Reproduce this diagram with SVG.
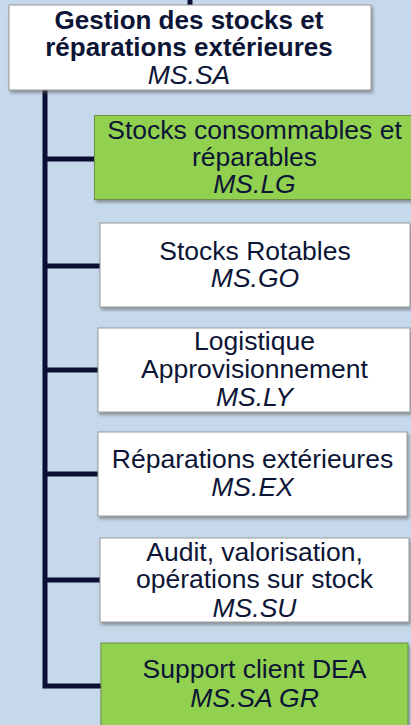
<svg xmlns="http://www.w3.org/2000/svg" width="411" height="725" viewBox="0 0 411 725">
<style>
.box{fill:#ffffff;stroke:#9a9a9a;stroke-width:1;filter:url(#sh)}
.green{fill:#92d050;stroke:#6f8f4a;stroke-width:1;filter:url(#sh)}
text{font-family:"Liberation Sans",Arial,sans-serif;font-size:26.5px;fill:#0c1535;text-anchor:middle}
.b{font-weight:bold;font-size:26px}
.i{font-style:italic}
.ln{stroke:#0a0f33;stroke-width:5;fill:none}
</style>
<defs>
<filter id="sh" x="-10%" y="-10%" width="125%" height="140%">
<feDropShadow dx="1.5" dy="2.5" stdDeviation="1.5" flood-color="#555" flood-opacity="0.55"/>
</filter>
</defs>
<rect width="411" height="725" fill="#c6d9eb"/>
<g id="connectors">
<line class="ln" x1="190" y1="0" x2="190" y2="6"/>
<path class="ln" d="M45 90 V686 H102"/>
<line class="ln" x1="45" y1="159" x2="95" y2="159"/>
<line class="ln" x1="45" y1="266" x2="100" y2="266"/>
<line class="ln" x1="45" y1="370" x2="98" y2="370"/>
<line class="ln" x1="45" y1="474" x2="98" y2="474"/>
<line class="ln" x1="45" y1="580" x2="100" y2="580"/>
</g>
<g id="n0">
<rect class="box" x="9" y="5" width="362" height="85"/>
<text class="b" x="189" y="29">Gestion des stocks et</text>
<text class="b" x="189" y="56">réparations extérieures</text>
<text class="i" x="189" y="84">MS.SA</text>
</g>
<g id="n1">
<rect class="green" x="94.5" y="115.5" width="322" height="84"/>
<text x="254.5" y="139">Stocks consommables et</text>
<text x="254.5" y="166">réparables</text>
<text class="i" x="254.5" y="193">MS.LG</text>
</g>
<g id="n2">
<rect class="box" x="100" y="223" width="310" height="84"/>
<text x="255" y="260">Stocks Rotables</text>
<text class="i" x="255" y="287">MS.GO</text>
</g>
<g id="n3">
<rect class="box" x="98" y="328" width="312" height="84"/>
<text x="254.5" y="350">Logistique</text>
<text x="254.5" y="378">Approvisionnement</text>
<text class="i" x="254.5" y="406">MS.LY</text>
</g>
<g id="n4">
<rect class="box" x="98" y="432" width="309" height="84"/>
<text x="252.5" y="468">Réparations extérieures</text>
<text class="i" x="252.5" y="496">MS.EX</text>
</g>
<g id="n5">
<rect class="box" x="100" y="538" width="309" height="84"/>
<text x="254.5" y="561">Audit, valorisation,</text>
<text x="254.5" y="588">opérations sur stock</text>
<text class="i" x="254.5" y="617">MS.SU</text>
</g>
<g id="n6">
<rect class="green" x="101" y="643" width="307" height="90"/>
<text x="254.5" y="678">Support client DEA</text>
<text class="i" x="254.5" y="707">MS.SA GR</text>
</g>
</svg>
